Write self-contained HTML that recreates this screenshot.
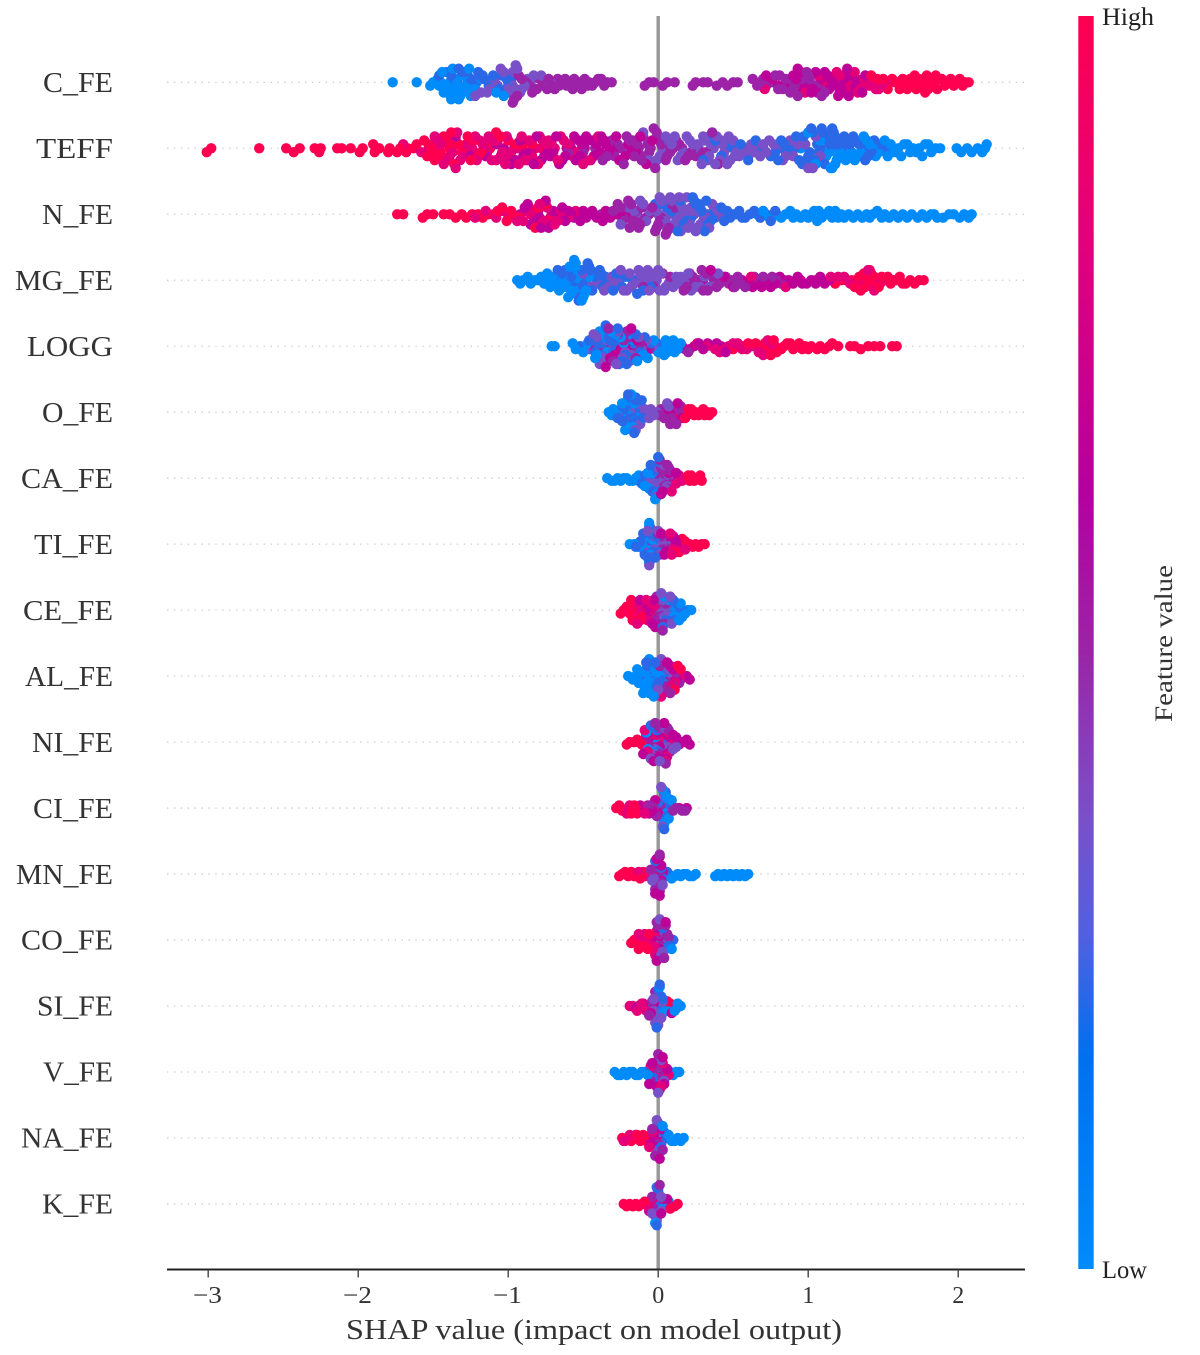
<!DOCTYPE html>
<html lang="en">
<head>
<meta charset="utf-8">
<title>SHAP summary plot</title>
<style>
html,body{margin:0;padding:0;background:#fff;}
svg{display:block;}
text{font-family:"Liberation Serif",serif;fill:#333;}
</style>
</head>
<body>
<svg id="chart" xmlns="http://www.w3.org/2000/svg" width="1200" height="1355" viewBox="0 0 1200 1355">
<defs>
<linearGradient id="redBlue" x1="0" y1="1" x2="0" y2="0">
<stop offset="0" stop-color="#008bfb"/>
<stop offset="0.17" stop-color="#0070ee"/>
<stop offset="0.265" stop-color="#5060e0"/>
<stop offset="0.36" stop-color="#7a50c8"/>
<stop offset="0.49" stop-color="#9a25a8"/>
<stop offset="0.62" stop-color="#b4009f"/>
<stop offset="0.81" stop-color="#e0007e"/>
<stop offset="1" stop-color="#ff0051"/>
</linearGradient>
</defs>
<g id="gridLayer"></g>
<line x1="658.2" x2="658.2" y1="16" y2="1269" stroke="#999" stroke-width="3.5"/>
<g id="dotLayer"></g>
<g font-size="28">
<text x="43" y="92" textLength="70" lengthAdjust="spacingAndGlyphs">C_FE</text>
<text x="36" y="158" textLength="77" lengthAdjust="spacingAndGlyphs">TEFF</text>
<text x="42" y="224" textLength="71" lengthAdjust="spacingAndGlyphs">N_FE</text>
<text x="15" y="290" textLength="98" lengthAdjust="spacingAndGlyphs">MG_FE</text>
<text x="27" y="355.9" textLength="86" lengthAdjust="spacingAndGlyphs">LOGG</text>
<text x="42" y="421.9" textLength="71" lengthAdjust="spacingAndGlyphs">O_FE</text>
<text x="21" y="487.9" textLength="92" lengthAdjust="spacingAndGlyphs">CA_FE</text>
<text x="34" y="553.9" textLength="79" lengthAdjust="spacingAndGlyphs">TI_FE</text>
<text x="23" y="619.8" textLength="90" lengthAdjust="spacingAndGlyphs">CE_FE</text>
<text x="25" y="685.8" textLength="88" lengthAdjust="spacingAndGlyphs">AL_FE</text>
<text x="32" y="751.8" textLength="81" lengthAdjust="spacingAndGlyphs">NI_FE</text>
<text x="33" y="817.8" textLength="80" lengthAdjust="spacingAndGlyphs">CI_FE</text>
<text x="16" y="883.8" textLength="97" lengthAdjust="spacingAndGlyphs">MN_FE</text>
<text x="21" y="949.7" textLength="92" lengthAdjust="spacingAndGlyphs">CO_FE</text>
<text x="37" y="1015.7" textLength="76" lengthAdjust="spacingAndGlyphs">SI_FE</text>
<text x="43" y="1081.7" textLength="70" lengthAdjust="spacingAndGlyphs">V_FE</text>
<text x="21" y="1147.7" textLength="92" lengthAdjust="spacingAndGlyphs">NA_FE</text>
<text x="42" y="1213.7" textLength="71" lengthAdjust="spacingAndGlyphs">K_FE</text>
</g>
<line x1="167" x2="1025" y1="1269.5" y2="1269.5" stroke="#222" stroke-width="2"/>
<g id="tickLayer"></g>
<text x="346" y="1339" font-size="28" textLength="496" lengthAdjust="spacingAndGlyphs">SHAP value (impact on model output)</text>
<rect x="1078.3" y="16" width="15.4" height="1253" fill="url(#redBlue)"/>
<text x="1102" y="25" font-size="25" textLength="52" lengthAdjust="spacingAndGlyphs" style="fill:#222">High</text>
<text x="1102" y="1278" font-size="25" textLength="45" lengthAdjust="spacingAndGlyphs" style="fill:#222">Low</text>
<text transform="translate(1172,722) rotate(-90)" x="0" y="0" font-size="25" textLength="157" lengthAdjust="spacingAndGlyphs">Feature value</text>
</svg>
<script>
// Values are SHAP values in hundredths. Each row holds seven lists, one per feature-value level.
const featureLevels = [0, 0.22, 0.36, 0.5, 0.66, 0.83, 1];
const xTickValues = [-3, -2, -1, 0, 1, 2];
const xTickLabels = ["\u22123", "\u22122", "\u22121", "0", "1", "2"];
const binWidths = [6, 7, 6, 6, 6, 4, 4, 4, 4, 4, 4, 4, 4, 4, 4, 4, 4, 4];

const cFeShap = [
[-177,-161,-152,-150,-147,-146,-145,-144,-143,-142,-141,-140,-140,-139,-138,-137,-136,-135,-135,-134,-133,-132,-131,-130,-129,-128,-127,-126,-125,-124,-122,-118,-113,-108,-103],
[-146,-141,-138,-136,-134,-133,-131,-129,-127,-125,-123,-121,-120,-119,-117,-116,-113,-111,-110,-106,-104,-101,-96,-100,-98],
[-122,-118,-114,-112,-109,-107,-105,-103,-102,-100,-99,-98,-97,-95,-94,-92,-91,-89,-87,-85,-83,-78,-72,-97,-95],
[-100,-97,-96,-94,-93,-91,-88,-86,-84,-82,-81,-79,-77,-76,-74,-73,-71,-69,-67,-66,-64,-62,-61,-59,-57,-56,-54,-52,-51,-49,-47,-46,-44,-42,-40,-38,-36,-34,-31,-9,-6,-3,3,6,11,23,25,30,33,39,43,46,50,53,63,66,68,70,72,74,76,78,80,81,83,85,86,88,90,91,93,95,96,97,99,100,101,104,105,107,109,111],
[72,76,80,84,88,90,92,93,95,96,98,100,102,103,105,106,108,110,111,113,114,115,116,118,119,120,121,122,123,124,125,126,127,128,129,130,132,134,136,138],
[71,98,107,112,117,119,121,123,125,127,129,131,133,135,137,139,141,143,145,147,149,151,153],
[138,142,146,150,153,156,158,159,161,163,164,166,168,169,170,171,172,174,175,176,177,178,179,180,181,182,183,184,185,186,187,189,191,193,195,197,199,201,203,205,207]
];
const teffShap = [
[95,100,105,108,110,112,114,115,116,118,119,120,121,123,125,127,129,131,133,135,137,139,141,143,145,147,149,151,153,155,157,159,160,162,164,166,168,170,172,174,176,178,180,182,185,188,199,202,206,209,213,216,218,219],
[30,34,38,42,46,50,55,60,65,70,75,78,80,82,84,85,87,89,91,92,94,96,97,99,100,101,102,103,104,106,107,108,109,110,111,112,113,114,115,116,117,118,119,120,122,124,126,128,130,132,134,136,138,140,142,144,148,152],
[-20,-10,-6,-3,-1,1,3,5,7,9,11,13,15,17,19,21,23,24,26,27,29,30,31,33,34,35,37,38,39,41,42,43,44,45,46,47,48,50,51,52,54,56,58,60,62,64,66,68,70,72,74,77,80,83,85,88,90,93,95,98,100,103,105,108],
[-60,-50,-42,-37,-34,-31,-29,-27,-25,-23,-21,-19,-17,-16,-14,-13,-11,-10,-9,-7,-6,-5,-3,-2,-1,0,1,2,3,5,6,8,10,12,14,16,18,20,22,25,28,32,36,40],
[-135,-125,-115,-108,-103,-98,-95,-92,-90,-88,-85,-83,-81,-78,-76,-74,-72,-70,-68,-66,-64,-62,-61,-59,-58,-56,-55,-53,-52,-51,-49,-48,-47,-45,-44,-43,-41,-39,-38,-36,-35,-33,-32,-30,-28,-26,-24,-22,-20,-18,-15,-12,-8,-4],
[-170,-158,-153,-149,-147,-145,-143,-141,-139,-137,-135,-134,-132,-130,-128,-126,-124,-122,-121,-119,-117,-116,-114,-113,-111,-110,-108,-107,-105,-104,-102,-101,-99,-98,-96,-94,-93,-91,-89,-87,-86,-84,-82,-80,-79,-77,-75,-73,-71,-69,-67,-65,-63,-60,-57,-54,-50,-46,-40],
[-301,-298,-266,-248,-243,-239,-229,-226,-225,-214,-211,-205,-199,-197,-190,-189,-186,-180,-179,-174,-172,-168,-167,-163,-161,-156,-154,-153,-151,-150,-149,-147,-145,-143,-141,-140,-139,-138,-136,-135,-133,-131,-130,-127,-125,-123,-120,-118,-115,-112,-108,-105,-100,-95,-90,-84,-78]
];
const nFeShap = [
[66,70,74,76,79,82,85,88,90,92,95,98,100,102,104,106,107,109,110,112,114,116,118,120,122,124,127,130,133,136,139,141,143,146,149,151,154,157,160,163,166,169,173,176,179,182,184,186,190,194,197,201,204,207,209],
[-2,3,6,9,12,13,15,17,19,21,22,23,24,25,27,28,29,30,31,32,33,35,37,38,40,42,44,46,48,50,52,54,56,58,61,64,68,72,75,78],
[-25,-20,-16,-14,-12,-10,-8,-6,-3,-1,0,1,2,3,4,5,6,7,8,9,10,11,12,13,14,15,15,16,17,18,19,19,20,21,22,23,24,25,26,27,28,30,32,33,34,36,38,40,43],
[-45,-38,-30,-27,-25,-24,-23,-21,-20,-19,-18,-17,-16,-15,-14,-13,-12,-11,-10,-8,-6,-4,-2,-1,0,1,2,3,5,6,7,9,11],
[-100,-92,-89,-87,-85,-82,-80,-79,-78,-75,-73,-72,-70,-68,-66,-64,-62,-60,-58,-56,-54,-52,-50,-48,-46,-44,-41,-39,-37,-35,-32,-28,-24,-22,-20],
[-122,-115,-108,-104,-100,-97,-94,-90,-88,-86,-84,-83,-81,-79,-78,-76,-74,-72,-71,-69,-67,-65,-60,-55],
[-174,-170,-157,-154,-150,-143,-139,-135,-131,-128,-124,-120,-117,-113,-110,-107,-104,-101,-98,-96,-93,-85,-82,-80,-75,-73]
];
const mgFeShap = [
[-94,-92,-90,-87,-85,-82,-80,-78,-76,-74,-72,-71,-69,-68,-66,-65,-64,-63,-62,-61,-60,-59,-58,-58,-57,-57,-56,-56,-55,-55,-54,-53,-52,-51,-50,-49,-48,-46],
[-75,-70,-67,-64,-62,-60,-58,-56,-54,-53,-52,-51,-50,-49,-48,-47,-46,-45,-44,-43,-42,-41,-39,-38,-37,-35,-34,-32,-30,-28,-26,-24,-22,-20,-17,-14,-10,-5],
[-50,-45,-41,-38,-36,-33,-31,-29,-27,-26,-25,-23,-21,-19,-18,-16,-15,-13,-12,-11,-10,-9,-8,-7,-6,-5,-4,-3,-2,-1,0,1,2,4,5,7,8,10,12,13,15,16,18,20,22,25,28,31,34,37,40],
[-10,-3,3,8,12,17,19,21,23,24,26,27,29,30,32,33,35,36,38,39,41,43,45,47,49,51,53,55,58,61,64,67,70,73,76,79,82],
[30,35,44,50,56,60,63,66,69,72,75,78,81,84,87,90,93,96,99,102,105,108,111,114],
[62,85,95,105,115,120,124,128,132,136,140,144,148],
[118,122,125,129,131,134,135,137,138,139,140,141,142,143,144,145,146,147,149,151,153,155,157,159,161,163,165,168,171,174,177]
];
const loggShap = [
[-71,-69,-57,-55,-50,-47,-44,-42,-41,-39,-37,-36,-34,-33,-31,-28,-25,-23,-20,-18,-14,-10,-7,-3,0,2,3,4,5,6,7,8,9,10,11,12,13,15],
[-52,-48,-46,-44,-42,-40,-38,-37,-36,-35,-34,-33,-32,-30,-29,-27,-26,-24,-22,-21,-19,-17,-15,-12,-9,-5,-1],
[-46,-43,-41,-39,-37,-36,-34,-31,-28,-27,-24,-22,-19,-18,-16,-13,-11,-8,-4],
[-42,-36,-33,-30,-27,-23,-21,-19,-17,-15,-12,-9,-6,-2,16,20],
[-35,-32,-29,-25,-22,-20,-18,-14,-11,-8,18,21,24,27,30,33,36,39,42,45],
[26,32,38,41,44,47,50,53,56,59,62,64,67,70,73,76,78],
[50,56,60,65,68,70,71,72,74,75,77,79,80,82,84,86,88,90,92,94,96,98,100,102,106,108,111,114,116,120,128,131,135,140,144,148,156,159]
];
const oFeShap = [
[-33,-31,-30,-27,-28,-25,-24,-24,-22,-21,-20,-21,-20,-19,-18,-17,-16,-15,-14,-12],
[-27,-24,-24,-23,-21,-22,-21,-20,-20,-18,-19,-17,-16,-16,-15,-15,-14,-13,-12,-12,-11,-10],
[-26,-21,-18,-18,-16,-15,-12,-13,-9,-8,-7,-6,-5,-3,-4,-1,3,5,6,7],
[1,4,2,6,8,9,10,9,11,12,13,12,15,14],
[7,8,10,12,13,16],
[15,17,19,21],
[18,20,22,24,25,27,28,30,31,33,34,36]
];
const caFeShap = [
[-34,-31,-29,-27,-25,-23,-21,-19,-17,-15,-13,-13,-11,-10,-9,-7,-6,-5,-4,-3,-2,-1],
[-11,-9,-8,-6,-5,-5,-4,-3,-2,-2,-1,0,1,1],
[-7,-4,-3,-2,-1,0,0,1,2,3,3,4,5,6,7],
[-1,0,1,2,3,4,4,5,6,6,7,8,9,10],
[1,2,3,6,7,8,10,11,12],
[9,12,14,16],
[17,19,20,21,22,24,25,26,28,29]
];
const tiFeShap = [
[-19,-16,-13,-11,-9,-8,-7,-6,-6,-5,-5,-4,-3,-2],
[-15,-12,-10,-9,-8,-7,-7,-6,-5,-5,-4,-4,-3,-2,-1,0,1],
[-9,-8,-7,-6,-5,-4,-3,-2,-1,0,1,2,3,5],
[-4,-2,0,2,3,4,6,8],
[2,4,5,6,7,8,9,10,11,12,14,16],
[6,8,9,10,11,12,14,16,18],
[12,14,16,18,19,21,23,25,27,29,31]
];
const ceFeShap = [
[2,4,7,10,11,12,13,14,15,16,17,18,20,22],
[3,5,6,7,8,9,10,11,13,14,16],
[0,1,2,3,4,5,6,7,8,9],
[-3,-1,0,1,2,3,4,5,1,0,0],
[-16,-12,-10,-8,-7,-6,-5,-4,-3,-2,-1],
[-20,-17,-15,-14,-13,-12,-11,-10,-9,-8,-7,-6,-5,-3],
[-25,-23,-21,-19,-18,-17,-16,-15,-14,-12,-11]
];
const alFeShap = [
[-20,-17,-15,-14,-13,-12,-11,-10,-9,-8,-8,-8,-7,-7,-6,-6,-5,-5,-4,-4,-3,-2,-1,1,3],
[-12,-9,-8,-7,-6,-5,-4,-3,-2,-1,0,1,2,4],
[-3,0,2,4,5,6,7,8],
[1,3,4,5,6,7,8,9,10,12,14],
[3,4,6,8,10,12,14,19,21],
[2,9,11,13,15,17],
[11,13,15]
];
const niFeShap = [
[-10,-8,-7,-4,-2],
[-9,-7,-5,-3,-1,0,2,4],
[-7,-5,-4,-3,-2,0,1,1,2,3,4,5,6,8,10,12],
[-8,-6,-4,-3,-2,-1,0,1,2,3,4,5,6,7,8,9,11,13],
[-10,-8,-6,-6,-5,-4,-3,-2,-1,0,1,2,3,4,5,6,6,8,9,10,12,14,16,19,21],
[-13,-9,-7,-3,-1,0,2,3,5,6,7,11],
[-21,-19,-16,-14,-11,-6,3,9,18]
];
const ciFeShap = [
[2,3,4,4,5,5,6,6,7,9],
[0,2,3,4,4,5,6,7],
[-2,1,2,3,4,5,5,6,7],
[-6,-3,-1,1,3,8,10,12,16,18],
[-12,-10,-8,-6,-4,-2,0,14,19],
[-25,-21,-19,-17,-15,-13,-11,-9,-7],
[-28,-26,-24,-22,-20,-18,-16,-14]
];
const mnFeShap = [
[7,9,11,13,15,17,19,21,23,25,38,40,42,44,46,48,50,52,54,56,58,60],
[-2,2,3,6,8],
[-4,-3,-1,0,1,2,3],
[-5,-2,-1,-1,0,0,1,1,2,2,3],
[-6,-3,-2,-1,-1,0,0,0,1,1,2,2,3],
[-21,-17,-13,-11,-9,-7,-4,-1],
[-26,-24,-22,-20,-18,-16,-14,-12,-10]
];
const coFeShap = [
[5,9],
[3,7,10],
[-1,0,1,2,3,4,5,6,8],
[-1,0,0,1,2,3,4,5,6,7],
[-4,-2,-1,-1,0,0,1,2,3,5],
[-13,-11,-9,-7,-6,-5,-4,-3,-2,-1],
[-18,-16,-14,-13,-12,-11,-10,-9,-8,-7,-6]
];
const siFeShap = [
[0,1,2,3,5,7,9,11,13,15],
[-3,-2,-2,-1,-1,0,0,0,0,1,1,2,3,-4,6,3,3],
[-3,-3,-1,0,0,1,2,0,-2,3,4],
[-13,-9,-6,-4,-2],
[-15,-12,-10,-7,-5,-3,9,12],
[-19,-17,-14,-11,-8],
[6,8,10]
];
const vFeShap = [
[-29,-27,-25,-23,-21,-19,-17,-15,-13,-11,8,10,12,14,-7,1],
[-9,-3],
[-4,-2,0,2,4],
[-5,-3,-1,-1,0,1,2,3,4,5],
[-6,-4,-1,0,0,1,2,3,4,6],
[-5,-3,0,1,2,3,7],
[-2]
];
const naFeShap = [
[5,7,9,11,13,15,17,3],
[0,2,4,6],
[-4,-3,-1,-1,0,1,2,3],
[-4,-2,-1,0,0,1,2,3],
[-5,-3,-2,0,1,1,2],
[-23,-19,-15,-11,-9,-6,-4],
[-24,-22,-20,-18,-16,-14,-12,-10,-8]
];
const kFeShap = [
[-7,-2,3,7],
[-5,-4,-3,-1,-1,0,0,2,3,6],
[-4,-1,-1,0,1,1,2,2],
[-4,-3,-1,0,1,1,3],
[-6,-2,0,1,2,6],
[-7,-4,-2,5,9],
[-23,-21,-19,-17,-15,-13,-11,-9,8,11,13]
];
const rowSeries = [cFeShap, teffShap, nFeShap, mgFeShap, loggShap, oFeShap, caFeShap, tiFeShap, ceFeShap, alFeShap, niFeShap, ciFeShap, mnFeShap, coFeShap, siFeShap, vFeShap, naFeShap, kFeShap];
const rowNames = ["c-fe","teff","n-fe","mg-fe","logg","o-fe","ca-fe","ti-fe","ce-fe","al-fe","ni-fe","ci-fe","mn-fe","co-fe","si-fe","v-fe","na-fe","k-fe"];

const NS = "http://www.w3.org/2000/svg";
const X_ZERO = 658.2, X_UNIT = 150;
const ROW_TOP = 82.3, ROW_GAP = 65.98;
function xScale(v) { return X_ZERO + X_UNIT * v; }
function rowY(i) { return ROW_TOP + ROW_GAP * i; }

const colorStops = [[0,[0,139,251]],[0.17,[0,112,238]],[0.265,[80,96,224]],[0.36,[122,80,200]],[0.49,[154,37,168]],[0.62,[180,0,159]],[0.81,[224,0,126]],[1,[255,0,81]]];
function colorOf(t) {
  for (let i = 1; i < colorStops.length; i++) {
    if (t <= colorStops[i][0]) {
      const a = colorStops[i-1], b = colorStops[i];
      const u = (t - a[0]) / (b[0] - a[0]);
      const c = a[1].map((ch, k) => Math.round(ch + (b[1][k] - ch) * u));
      return "rgb(" + c.join(",") + ")";
    }
  }
  return "rgb(255,0,81)";
}

const gridLayer = document.getElementById("gridLayer");
const dotLayer = document.getElementById("dotLayer");
const tickLayer = document.getElementById("tickLayer");

rowSeries.forEach(function (bands, ri) {
  const y0 = rowY(ri);
  const guide = document.createElementNS(NS, "line");
  
  
  guide.setAttribute("x1", 167);
  guide.setAttribute("x2", 1025);
  guide.setAttribute("y1", y0);
  guide.setAttribute("y2", y0);
  guide.setAttribute("stroke", "#ccc");
  guide.setAttribute("stroke-width", 1.3);
  guide.setAttribute("stroke-dasharray", "1.4 5.5");
  gridLayer.appendChild(guide);

  const pts = [];
  bands.forEach(function (band, level) {
    band.forEach(function (v) { pts.push({ v: v, f: featureLevels[level] }); });
  });
  pts.forEach(function (p, i) { p.k = (i * 7919) % 1009; });
  pts.sort(function (a, b) { return a.k - b.k; });

  const counts = {};
  let maxLayer = 0;
  pts.forEach(function (p) {
    const q = Math.round(p.v / binWidths[ri]);
    const layer = counts[q] || 0;
    p.s = Math.ceil(layer / 2) * ((layer % 2) * 2 - 1);
    counts[q] = layer + 1;
    if (p.s > maxLayer) maxLayer = p.s;
  });
  const step = 0.9 * 0.4 * ROW_GAP / (maxLayer + 1);

  pts.forEach(function (p) {
    const dot = document.createElementNS(NS, "circle");
    
    
    dot.setAttribute("cx", xScale(p.v / 100).toFixed(1));
    dot.setAttribute("cy", (y0 + p.s * step).toFixed(1));
    dot.setAttribute("r", 5.2);
    dot.setAttribute("fill", colorOf(p.f));
    dotLayer.appendChild(dot);
  });
});

xTickValues.forEach(function (v, i) {
  const x = xScale(v);
  const tick = document.createElementNS(NS, "line");
  
  
  tick.setAttribute("x1", x);
  tick.setAttribute("x2", x);
  tick.setAttribute("y1", 1269.5);
  tick.setAttribute("y2", 1277.5);
  tick.setAttribute("stroke", "#444");
  tick.setAttribute("stroke-width", 1.4);
  tickLayer.appendChild(tick);

  const label = document.createElementNS(NS, "text");
  
  
  label.setAttribute("x", x - (v < 0 ? 0.8 : 0));
  label.setAttribute("y", 1303);
  label.setAttribute("font-size", 24);
  label.setAttribute("text-anchor", "middle");
  if (v < 0) {
    label.setAttribute("textLength", 29);
    label.setAttribute("lengthAdjust", "spacingAndGlyphs");
  }
  label.textContent = xTickLabels[i];
  tickLayer.appendChild(label);
});
</script>
</body>
</html>
